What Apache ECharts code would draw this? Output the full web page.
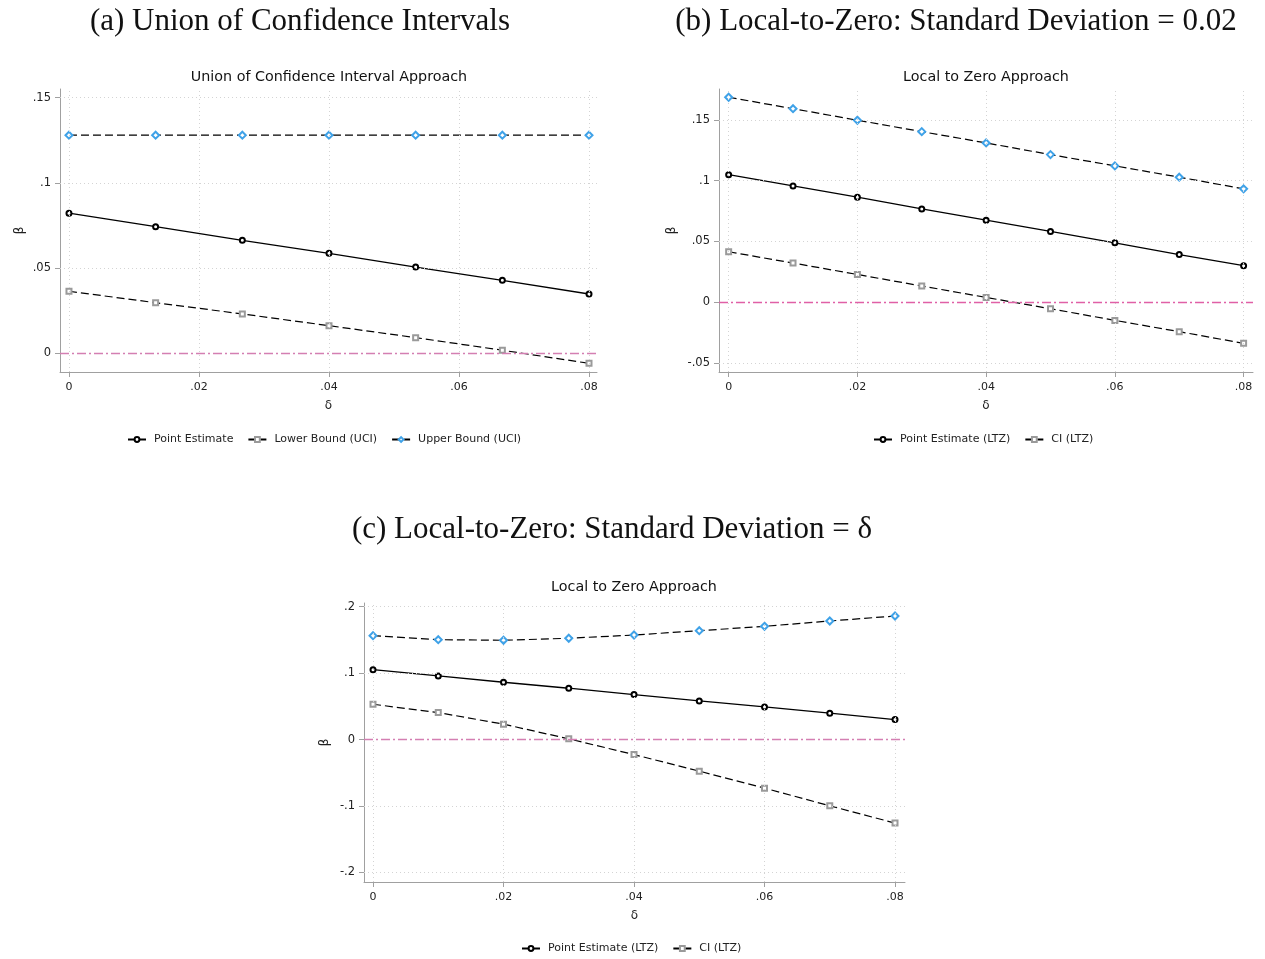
<!DOCTYPE html>
<html>
<head>
<meta charset="utf-8">
<script src="https://cdn.jsdelivr.net/npm/echarts@6/dist/echarts.min.js"></script>
<style>
  html, body { margin: 0; padding: 0; background: #fff; }
  #chart { width: 1265px; height: 959px; }
</style>
</head>
<body>
<div id="chart"></div>
<script>
// Panel (a): union of confidence intervals
const deltaA = [0, 0.01333, 0.02667, 0.04, 0.05333, 0.06667, 0.08];
const pointA = [0.0822, 0.0743, 0.0663, 0.0587, 0.0506, 0.0428, 0.0348];
const lowerA = [0.0364, 0.0297, 0.0231, 0.0162, 0.0092, 0.0018, -0.0059];
const upperA = [0.128, 0.128, 0.128, 0.128, 0.128, 0.128, 0.128];

// Panel (b): local-to-zero, standard deviation 0.02
const deltaB = [0, 0.01, 0.02, 0.03, 0.04, 0.05, 0.06, 0.07, 0.08];
const pointB = [0.1049, 0.0956, 0.0863, 0.0767, 0.0674, 0.0581, 0.0488, 0.0391, 0.0299];
const lowerB = [0.0414, 0.0321, 0.0227, 0.0132, 0.0038, -0.0055, -0.0151, -0.0244, -0.0340];
const upperB = [0.1686, 0.1592, 0.1497, 0.1403, 0.1310, 0.1214, 0.1121, 0.1028, 0.0932];

// Panel (c): local-to-zero, standard deviation = delta
const deltaC = [0, 0.01, 0.02, 0.03, 0.04, 0.05, 0.06, 0.07, 0.08];
const pointC = [0.1053, 0.0958, 0.0863, 0.0773, 0.0677, 0.0582, 0.0492, 0.0397, 0.0301];
const lowerC = [0.0532, 0.0406, 0.0232, 0.0011, -0.0226, -0.0475, -0.0731, -0.0997, -0.1257];
const upperC = [0.1564, 0.1504, 0.1495, 0.1525, 0.1574, 0.1639, 0.1705, 0.1785, 0.1860];

// Tick positions
const xTicks = [0, 0.02, 0.04, 0.06, 0.08];
const yTicksA = [0, 0.05, 0.1, 0.15];
const yTicksB = [-0.05, 0, 0.05, 0.1, 0.15];
const yTicksC = [-0.2, -0.1, 0, 0.1, 0.2];

const panelTitles = [
  '(a) Union of Confidence Intervals',
  '(b) Local-to-Zero: Standard Deviation = 0.02',
  '(c) Local-to-Zero: Standard Deviation = δ'
];
const subTitles = ['Union of Confidence Interval Approach', 'Local to Zero Approach', 'Local to Zero Approach'];

const SANS = 'DejaVu Sans';
const SERIF = 'Liberation Serif';
const AXIS_GRAY = '#a0a0a0';

// Stata-style numbers: drop leading zero (.05, -.1)
function stataNum(v) {
  const r = Math.round(v * 1000) / 1000;
  if (r === 0) return '0';
  return String(r).replace(/^(-?)0\./, '$1.');
}

function pairs(xs, ys) { return xs.map((x, i) => [x, ys[i]]); }

function xAxisDef(gi, min, max) {
  return {
    type: 'value', gridIndex: gi, min: min, max: max,
    name: 'δ', nameLocation: 'middle', nameGap: 28,
    nameTextStyle: { fontFamily: SANS, fontSize: 12, color: '#222' },
    axisLine: { show: true, onZero: false, lineStyle: { color: AXIS_GRAY, width: 1 } },
    axisTick: { show: true, customValues: xTicks, length: 5, lineStyle: { color: AXIS_GRAY } },
    axisLabel: { customValues: xTicks, formatter: stataNum, fontFamily: SANS, fontSize: 11, color: '#222', margin: 10 },
    splitLine: { show: false }
  };
}

function yAxisDef(gi, min, max, ticks, gap) {
  return {
    type: 'value', gridIndex: gi, min: min, max: max,
    name: 'β', nameLocation: 'middle', nameGap: gap, nameRotate: 90,
    nameTextStyle: { fontFamily: SANS, fontSize: 12, color: '#222' },
    axisLine: { show: true, onZero: false, lineStyle: { color: AXIS_GRAY, width: 1 } },
    axisTick: { show: true, customValues: ticks, length: 5, lineStyle: { color: AXIS_GRAY } },
    axisLabel: { customValues: ticks, formatter: stataNum, fontFamily: SANS, fontSize: 11.5, color: '#222', margin: 9 },
    splitLine: { show: false }
  };
}

// Dotted reference grid and the pink zero line for one panel
function gridSeries(gi, yTicks, zeroColor) {
  const dotted = { color: '#d4d4d4', width: 1, type: [1, 3] };
  const data = [];
  xTicks.forEach(v => data.push({ xAxis: v, lineStyle: dotted }));
  yTicks.forEach(v => { if (v !== 0) data.push({ yAxis: v, lineStyle: dotted }); });
  data.push({ yAxis: 0, lineStyle: { color: zeroColor, width: 1.3, type: [9, 3, 2, 3] } });
  return {
    type: 'line', xAxisIndex: gi, yAxisIndex: gi, data: [], z: 1, silent: true,
    markLine: { silent: true, symbol: 'none', label: { show: false }, animation: false, data: data }
  };
}

function pointSeries(gi, name, xs, ys) {
  return {
    type: 'line', name: name, xAxisIndex: gi, yAxisIndex: gi, data: pairs(xs, ys), z: 4,
    symbol: 'emptyCircle', symbolSize: 5, showAllSymbol: true,
    lineStyle: { color: '#000', width: 1.3, type: 'solid' },
    itemStyle: { color: '#000', borderWidth: 1 }
  };
}

function lowerSeries(gi, name, xs, ys) {
  return {
    type: 'line', name: name, xAxisIndex: gi, yAxisIndex: gi, data: pairs(xs, ys), z: 3,
    symbol: 'emptyRect', symbolSize: 5, showAllSymbol: true,
    lineStyle: { color: '#000', width: 1.2, type: [8, 4] },
    itemStyle: { color: '#9a9a9a', borderWidth: 1 }
  };
}

function upperSeries(gi, name, xs, ys) {
  return {
    type: 'line', name: name, xAxisIndex: gi, yAxisIndex: gi, data: pairs(xs, ys), z: 3,
    symbol: 'emptyDiamond', symbolSize: 7, showAllSymbol: true,
    lineStyle: { color: '#000', width: 1.2, type: [8, 4] },
    itemStyle: { color: '#3fa2e8', borderWidth: 1 }
  };
}

function legendDef(left, top, names) {
  return {
    left: left, top: top, orient: 'horizontal', data: names, padding: 0,
    itemWidth: 18, itemHeight: 6, itemGap: 14, selectedMode: false,
    textStyle: { fontFamily: SANS, fontSize: 11, color: '#222', padding: [0, 0, 0, 3] }
  };
}

function titleDef(text, cx, top, size, family) {
  return {
    text: text, left: cx, top: top, textAlign: 'center', padding: 0,
    textStyle: { fontFamily: family, fontSize: size, fontWeight: 'normal', color: '#111' }
  };
}

const chart = echarts.init(document.getElementById('chart'), null, { renderer: 'canvas' });

const option = {
  backgroundColor: '#ffffff',
  animation: false,
  title: [
    titleDef(panelTitles[0], 300, 6, 31, SERIF),
    titleDef(panelTitles[1], 956, 6, 31, SERIF),
    titleDef(panelTitles[2], 612, 514, 31, SERIF),
    titleDef(subTitles[0], 329, 70, 14.3, SANS),
    titleDef(subTitles[1], 986, 70, 14.3, SANS),
    titleDef(subTitles[2], 634, 580, 14.3, SANS)
  ],
  grid: [
    { left: 60, top: 89, width: 537, height: 283 },
    { left: 719, top: 89, width: 534, height: 283 },
    { left: 364, top: 603, width: 541, height: 279 }
  ],
  xAxis: [
    xAxisDef(0, -0.00138, 0.08123),
    xAxisDef(1, -0.0015, 0.08146),
    xAxisDef(2, -0.00138, 0.08153)
  ],
  yAxis: [
    yAxisDef(0, -0.01097, 0.1551, yTicksA, 34),
    yAxisDef(1, -0.0576, 0.1754, yTicksB, 41),
    yAxisDef(2, -0.2144, 0.2056, yTicksC, 33)
  ],
  legend: [
    legendDef(127, 434, ['Point Estimate', 'Lower Bound (UCI)', 'Upper Bound (UCI)']),
    legendDef(873, 434, ['Point Estimate (LTZ)', 'CI (LTZ)']),
    legendDef(521, 943, ['Point Estimate (LTZ)', 'CI (LTZ)'])
  ],
  series: [
    gridSeries(0, yTicksA, '#d47fb2'),
    gridSeries(1, yTicksB, '#e060a6'),
    gridSeries(2, yTicksC, '#d47fb2'),
    pointSeries(0, 'Point Estimate', deltaA, pointA),
    lowerSeries(0, 'Lower Bound (UCI)', deltaA, lowerA),
    upperSeries(0, 'Upper Bound (UCI)', deltaA, upperA),
    pointSeries(1, 'Point Estimate (LTZ)', deltaB, pointB),
    lowerSeries(1, 'CI (LTZ)', deltaB, lowerB),
    upperSeries(1, 'CI (LTZ)', deltaB, upperB),
    pointSeries(2, 'Point Estimate (LTZ)', deltaC, pointC),
    lowerSeries(2, 'CI (LTZ)', deltaC, lowerC),
    upperSeries(2, 'CI (LTZ)', deltaC, upperC)
  ]
};

chart.setOption(option);
</script>
</body>
</html>
